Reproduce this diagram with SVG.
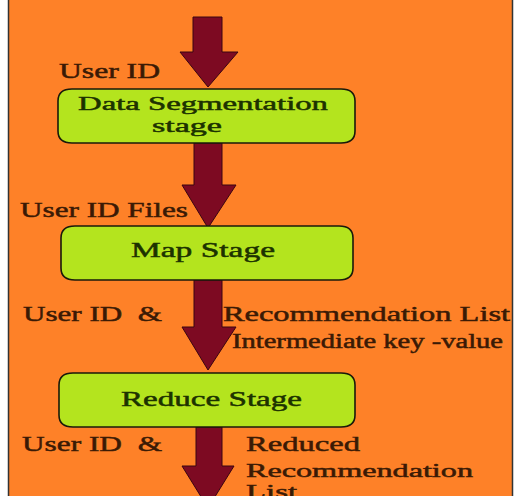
<svg xmlns="http://www.w3.org/2000/svg" width="521" height="496" viewBox="0 0 521 496">
<style>
.node{fill:#b4e41e;stroke:#1a1a0a;stroke-width:1.6}
.ntext{font-family:"Liberation Serif",serif;font-size:22px;fill:#1c3200;stroke:#1c3200;stroke-width:0.5}
.lbl{font-family:"Liberation Serif",serif;font-size:22px;fill:#3a1a05;stroke:#3a1a05;stroke-width:0.5}
.sm{font-size:20px}
.tight{font-size:19.5px}
.arrow{fill:#7d0a22;stroke:#3a0510;stroke-width:1}
</style>
<rect x="0" y="0" width="521" height="496" fill="#ffffff"/>
<rect x="8.5" y="-2" width="504" height="500" fill="#fe8128" stroke="#333" stroke-width="1.5"/>
<g id="connectors">
<path class="arrow" d="M193,17 H222 V52 H238 L208,87 L180,52 H193 Z"/>
<path class="arrow" d="M194,143 H222 V185 H236 L208,228 L182,185 H194 Z"/>
<path class="arrow" d="M194,280 H222 V327 H236 L208,370 L182,327 H194 Z"/>
<path class="arrow" d="M196,427 H222 V466 H234 L208,508 L182,466 H196 Z"/>
</g>
<g id="node-data-segmentation">
<path class="node" d="M72,89 H341 Q355,89 355,101 V131 Q355,143 341,143 H72 Q58,143 58,131 V101 Q58,89 72,89 Z"/>
<text class="ntext tight" x="78" y="110" textLength="250" lengthAdjust="spacingAndGlyphs">Data Segmentation</text>
<text class="ntext tight" x="152" y="132" textLength="70" lengthAdjust="spacingAndGlyphs">stage</text>
</g>
<g id="node-map">
<path class="node" d="M75,226 H339 Q353,226 353,238 V268 Q353,280 339,280 H75 Q61,280 61,268 V238 Q61,226 75,226 Z"/>
<text class="ntext" x="131" y="257" textLength="144" lengthAdjust="spacingAndGlyphs">Map Stage</text>
</g>
<g id="node-reduce">
<path class="node" d="M73,373 H341 Q355,373 355,385 V415 Q355,427 341,427 H73 Q59,427 59,415 V385 Q59,373 73,373 Z"/>
<text class="ntext" x="121" y="406" textLength="181" lengthAdjust="spacingAndGlyphs">Reduce Stage</text>
</g>
<g id="labels">
<text class="lbl" x="59" y="78" textLength="101" lengthAdjust="spacingAndGlyphs">User ID</text>
<text class="lbl" x="20" y="217" textLength="168" lengthAdjust="spacingAndGlyphs">User ID Files</text>
<text class="lbl" x="23" y="321" textLength="139" lengthAdjust="spacingAndGlyphs" xml:space="preserve">User ID  &amp;</text>
<text class="lbl" x="223" y="321" textLength="287" lengthAdjust="spacingAndGlyphs">Recommendation List</text>
<text class="lbl sm" x="232" y="348" textLength="271" lengthAdjust="spacingAndGlyphs">Intermediate key -value</text>
<text class="lbl" x="22" y="451" textLength="140" lengthAdjust="spacingAndGlyphs" xml:space="preserve">User ID  &amp;</text>
<text class="lbl" x="246" y="451" textLength="114" lengthAdjust="spacingAndGlyphs">Reduced</text>
<text class="lbl tight" x="246" y="477" textLength="227" lengthAdjust="spacingAndGlyphs">Recommendation</text>
<text class="lbl tight" x="246" y="498" textLength="51" lengthAdjust="spacingAndGlyphs">List</text>
</g>
</svg>
